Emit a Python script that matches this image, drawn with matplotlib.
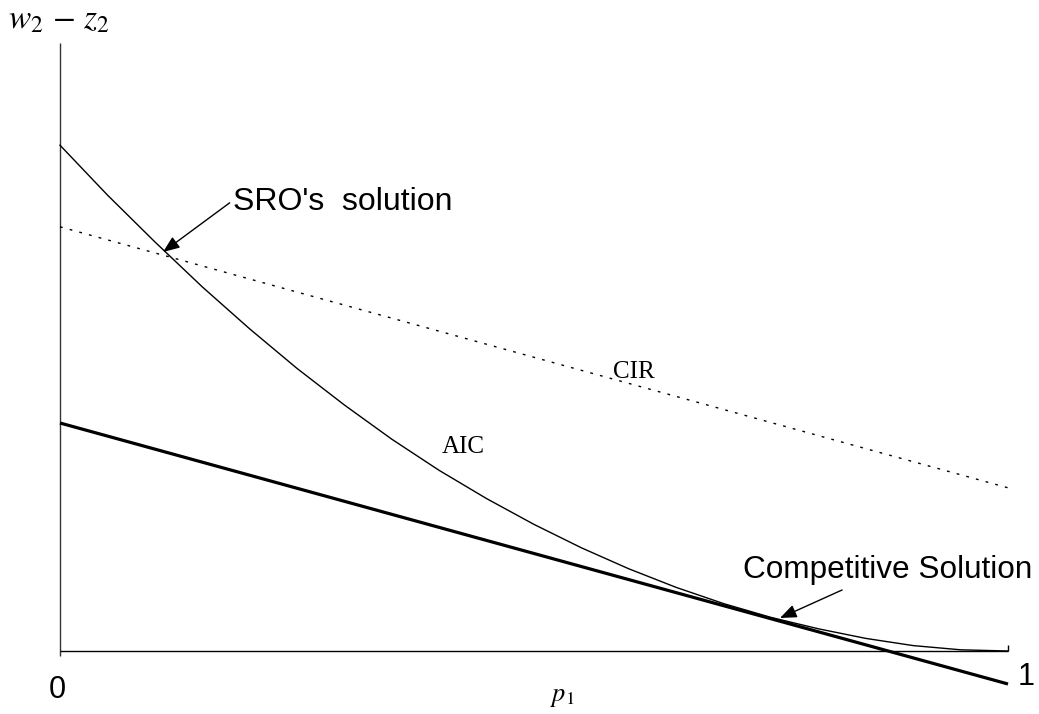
import matplotlib
matplotlib.use("Agg")
import matplotlib.pyplot as plt

# Share p1 on the horizontal axis
p_aic = [0.00, 0.05, 0.10, 0.15, 0.20, 0.25, 0.30, 0.35, 0.40, 0.45, 0.50,
         0.55, 0.60, 0.65, 0.70, 0.75, 0.80, 0.85, 0.90, 0.95, 1.00]
# AIC curve (convex, touches the axis at p1 = 1)
aic_values = [0.843, 0.760, 0.682, 0.607, 0.537, 0.471, 0.410, 0.353, 0.301,
              0.254, 0.211, 0.172, 0.137, 0.106, 0.079, 0.056, 0.037, 0.021,
              0.009, 0.002, 0.000]
# CIR constraint (dotted straight line)
p_cir = [0.0, 1.0]
cir_values = [0.707, 0.272]
# Competitive solution line (thick)
p_comp = [0.0, 1.0]
comp_values = [0.380, -0.055]

x_tick_labels = ["0", "1"]

plt.rcParams["mathtext.fontset"] = "stix"

fig = plt.figure(figsize=(10.39, 7.14), dpi=100)
ax = fig.add_axes([0, 0, 1, 1])
ax.set_xlim(-60 / 948, 979 / 948)
ax.set_ylim(-63 / 600, 651 / 600)
ax.axis("off")

# Axes drawn by hand
ax.plot([0, 0], [-5 / 600, 1.013], color="#333333", lw=1.0, solid_capstyle="butt")
ax.plot([0, 1], [0, 0], color="black", lw=1.0, solid_capstyle="butt")
ax.plot([1, 1], [0, 6 / 600], color="black", lw=1.0, solid_capstyle="butt")

# Curves
ax.plot(p_aic, aic_values, color="black", lw=1.0)
ax.plot(p_cir, cir_values, color="black", lw=1.0, linestyle=(0, (2.0, 5.2)))
ax.plot(p_comp, comp_values, color="black", lw=2.3, solid_capstyle="butt",
        clip_on=False)

# Axis labels
ax.text(-0.0549, 1.038, r"$w_2\,-\,z_2$", fontsize=24, ha="left", va="baseline")
ax.text(0.5295, -0.0833, r"$p_1$", fontsize=19, ha="center", va="baseline")
ax.text(-0.0026, -0.0783, x_tick_labels[0], fontsize=22, family="Liberation Sans",
        ha="center", va="baseline")
ax.text(1.0105, -0.0567, x_tick_labels[1], fontsize=22, family="Liberation Sans",
        ha="left", va="baseline")

# Curve names
ax.text(0.403, 0.330, "AIC", fontsize=18, family="Liberation Serif",
        ha="left", va="baseline")
ax.text(0.605, 0.455, "CIR", fontsize=18, family="Liberation Serif",
        ha="center", va="baseline")

# Annotated solutions
arrow = dict(arrowstyle="-|>,head_length=0.5,head_width=0.2", color="black",
             lw=1.0, mutation_scale=20, shrinkA=0, shrinkB=0)
ax.text(0.1825, 0.735, "SRO's  solution", fontsize=23, family="Liberation Sans",
        ha="left", va="baseline")
ax.annotate("", xy=(0.1087, 0.665), xytext=(0.179, 0.747), arrowprops=arrow)
ax.text(0.7205, 0.1217, "Competitive Solution", fontsize=22.7,
        family="Liberation Sans", ha="left", va="baseline")
ax.annotate("", xy=(0.7595, 0.055), xytext=(0.825, 0.1017), arrowprops=arrow)

fig.savefig("out.png", dpi=100)
